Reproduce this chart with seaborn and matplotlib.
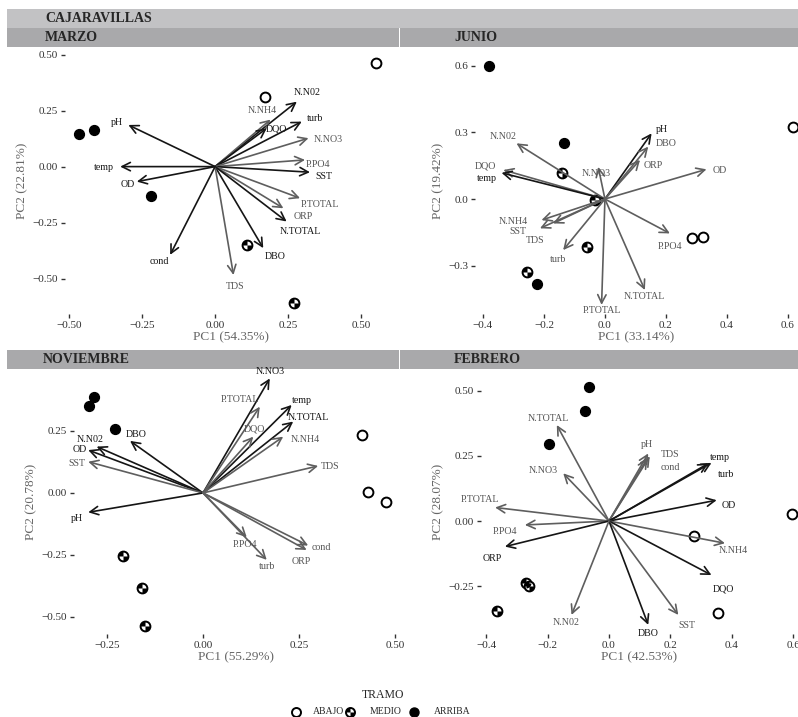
import numpy as np
import pandas as pd
import matplotlib.pyplot as plt
import seaborn as sns
from matplotlib.path import Path
from matplotlib.markers import MarkerStyle
from matplotlib.patches import Rectangle

# ---------------- MARZO
marzo_var = ["pH", "N.N02", "N.NH4", "turb", "DQO", "N.NO3", "P.PO4", "SST",
             "P.TOTAL", "ORP", "N.TOTAL", "DBO", "TDS", "cond", "OD", "temp"]
marzo_pc1 = [-0.297, 0.280, 0.190, 0.297, 0.177, 0.320, 0.308, 0.325,
             0.291, 0.234, 0.245, 0.165, 0.063, -0.154, -0.268, -0.325]
marzo_pc2 = [0.186, 0.290, 0.210, 0.201, 0.171, 0.127, 0.030, -0.025,
             -0.141, -0.186, -0.245, -0.364, -0.484, -0.394, -0.067, 0.000]
marzo_lab_x = [-0.336, 0.315, 0.160, 0.342, 0.211, 0.388, 0.354, 0.371,
               0.360, 0.303, 0.291, 0.205, 0.068, -0.192, -0.299, -0.382]
marzo_lab_y = [0.195, 0.330, 0.250, 0.213, 0.167, 0.119, 0.011, -0.045,
               -0.171, -0.223, -0.290, -0.402, -0.536, -0.424, -0.082, -0.003]
marzo_alta = ["pH", "N.N02", "turb", "DQO", "SST", "N.TOTAL", "DBO", "cond", "OD", "temp"]
marzo_sx = [0.551, 0.171, -0.465, -0.413, -0.220, 0.108, 0.271]
marzo_sy = [0.463, 0.312, 0.145, 0.164, -0.129, -0.350, -0.610]
marzo_tramo = ["ABAJO", "ABAJO", "ARRIBA", "ARRIBA", "ARRIBA", "MEDIO", "MEDIO"]

# ---------------- JUNIO
junio_var = ["pH", "DBO", "ORP", "OD", "N.N02", "DQO", "temp", "N.NO3",
             "N.NH4", "SST", "TDS", "turb", "P.PO4", "N.TOTAL", "P.TOTAL"]
junio_pc1 = [0.153, 0.142, 0.115, 0.333, -0.290, -0.333, -0.339, -0.022,
             -0.208, -0.213, -0.170, -0.137, 0.213, 0.131, -0.011]
junio_pc2 = [0.296, 0.236, 0.176, 0.134, 0.251, 0.131, 0.118, 0.145,
             -0.095, -0.132, -0.110, -0.230, -0.155, -0.410, -0.477]
junio_lab_x = [0.186, 0.202, 0.158, 0.377, -0.333, -0.393, -0.386, -0.027,
               -0.301, -0.284, -0.230, -0.153, 0.213, 0.131, -0.011]
junio_lab_y = [0.314, 0.251, 0.153, 0.127, 0.281, 0.149, 0.093, 0.116,
               -0.102, -0.147, -0.189, -0.272, -0.212, -0.440, -0.503]
junio_alta = ["pH", "temp"]
junio_sx = [-0.379, -0.134, -0.224, -0.140, -0.058, -0.257, -0.033, 0.284, 0.322, 0.617]
junio_sy = [0.600, 0.254, -0.384, 0.116, -0.215, -0.327, -0.005, -0.177, -0.170, 0.326]
junio_tramo = ["ARRIBA", "ARRIBA", "ARRIBA", "MEDIO", "MEDIO", "MEDIO", "MEDIO",
               "ABAJO", "ABAJO", "ABAJO"]

# ---------------- NOVIEMBRE
nov_var = ["N.NO3", "P.TOTAL", "temp", "N.TOTAL", "DQO", "N.NH4", "TDS", "DBO",
           "N.N02", "OD", "SST", "pH", "P.PO4", "turb", "cond", "ORP"]
nov_pc1 = [0.174, 0.148, 0.231, 0.235, 0.131, 0.209, 0.300, -0.190,
           -0.277, -0.299, -0.299, -0.299, 0.114, 0.166, 0.274, 0.270]
nov_pc2 = [0.462, 0.348, 0.355, 0.288, 0.227, 0.227, 0.109, 0.210,
           0.187, 0.173, 0.126, -0.078, -0.179, -0.270, -0.212, -0.230]
nov_lab_x = [0.176, 0.096, 0.257, 0.274, 0.135, 0.266, 0.331, -0.173,
             -0.294, -0.320, -0.329, -0.329, 0.109, 0.166, 0.309, 0.257]
nov_lab_y = [0.489, 0.375, 0.371, 0.304, 0.257, 0.214, 0.106, 0.234,
             0.216, 0.176, 0.117, -0.102, -0.207, -0.297, -0.219, -0.278]
nov_alta = ["N.NO3", "temp", "N.TOTAL", "DBO", "N.N02", "OD", "pH"]
nov_sx = [-0.284, -0.296, -0.229, 0.413, 0.431, 0.476, -0.208, -0.160, -0.151]
nov_sy = [0.386, 0.351, 0.257, 0.234, 0.005, -0.035, -0.254, -0.382, -0.535]
nov_tramo = ["ARRIBA", "ARRIBA", "ARRIBA", "ABAJO", "ABAJO", "ABAJO",
             "MEDIO", "MEDIO", "MEDIO"]

# ---------------- FEBRERO
feb_var = ["N.TOTAL", "N.NO3", "pH", "TDS", "cond", "temp", "turb", "OD",
           "P.TOTAL", "P.PO4", "ORP", "N.NH4", "DQO", "SST", "DBO", "N.N02"]
feb_pc1 = [-0.170, -0.149, 0.128, 0.133, 0.125, 0.334, 0.324, 0.351,
           -0.371, -0.274, -0.339, 0.378, 0.334, 0.226, 0.128, -0.122]
feb_pc2 = [0.368, 0.183, 0.259, 0.248, 0.240, 0.223, 0.221, 0.080,
           0.052, -0.015, -0.098, -0.085, -0.207, -0.360, -0.398, -0.360]
feb_lab_x = [-0.198, -0.214, 0.123, 0.199, 0.199, 0.362, 0.383, 0.389,
             -0.420, -0.339, -0.379, 0.405, 0.372, 0.253, 0.128, -0.138]
feb_lab_y = [0.393, 0.192, 0.294, 0.256, 0.204, 0.243, 0.179, 0.059,
             0.083, -0.041, -0.143, -0.114, -0.262, -0.402, -0.433, -0.388]
feb_alta = ["temp", "turb", "OD", "ORP", "DQO", "DBO"]
feb_sx = [-0.065, -0.078, -0.194, 0.598, 0.277, 0.356, -0.270, -0.260, -0.366]
feb_sy = [0.515, 0.421, 0.295, 0.027, -0.057, -0.354, -0.239, -0.249, -0.345]
feb_tramo = ["ARRIBA", "ARRIBA", "ARRIBA", "ABAJO", "ABAJO", "ABAJO",
             "MEDIO", "MEDIO", "MEDIO"]

meses = ["MARZO", "JUNIO", "NOVIEMBRE", "FEBRERO"]
pc1_var = ["54.35", "33.14", "55.29", "42.53"]
pc2_var = ["22.81", "19.42", "20.78", "28.07"]
tramos = ["ABAJO", "MEDIO", "ARRIBA"]

sns.set_theme(style="white")
plt.rcParams["font.family"] = ["Liberation Serif", "DejaVu Serif"]

W, H = 798, 717
fig = plt.figure(figsize=(W / 100, H / 100), dpi=100)
fig.patch.set_facecolor("white")

DARK = "#151515"
GRAY = "#5e5e5e"
half_marker = MarkerStyle(Path.make_compound_path(Path.wedge(90, 180), Path.wedge(270, 360)))


def px_axes(left, top, right, bottom):
    return fig.add_axes([left / W, 1 - bottom / H, (right - left) / W, (bottom - top) / H])


def draw_points(ax, x, y, tramo, s=50):
    df = pd.DataFrame({"x": x, "y": y, "tramo": tramo})
    for t in tramos:
        d = df[df.tramo == t]
        if d.empty:
            continue
        if t == "ARRIBA":
            sns.scatterplot(data=d, x="x", y="y", ax=ax, color="black", edgecolor="black",
                            linewidth=1.0, s=s, marker="o", zorder=2, clip_on=False)
        else:
            sns.scatterplot(data=d, x="x", y="y", ax=ax, color="white", edgecolor="black",
                            linewidth=1.4, s=s, marker="o", zorder=2, clip_on=False)
            if t == "MEDIO":
                sns.scatterplot(data=d, x="x", y="y", ax=ax, color="black", linewidth=0,
                                s=s, marker=half_marker, zorder=2, clip_on=False)


panels = [
    dict(var=marzo_var, x=marzo_pc1, y=marzo_pc2, lx=marzo_lab_x, ly=marzo_lab_y, alta=marzo_alta,
         sx=marzo_sx, sy=marzo_sy, tr=marzo_tramo,
         box=(65, 47, 397, 314), xlim=(-0.514, 0.623), ylim=(-0.658, 0.534),
         xt=[-0.5, -0.25, 0, 0.25, 0.5], yt=[-0.5, -0.25, 0, 0.25, 0.5], xf="%.2f", yf="%.2f"),
    dict(var=junio_var, x=junio_pc1, y=junio_pc2, lx=junio_lab_x, ly=junio_lab_y, alta=junio_alta,
         sx=junio_sx, sy=junio_sy, tr=junio_tramo,
         box=(475, 47, 798, 314), xlim=(-0.426, 0.633), ylim=(-0.518, 0.685),
         xt=[-0.4, -0.2, 0, 0.2, 0.4, 0.6], yt=[-0.3, 0, 0.3, 0.6], xf="%.1f", yf="%.1f"),
    dict(var=nov_var, x=nov_pc1, y=nov_pc2, lx=nov_lab_x, ly=nov_lab_y, alta=nov_alta,
         sx=nov_sx, sy=nov_sy, tr=nov_tramo,
         box=(74, 370, 398, 634), xlim=(-0.336, 0.508), ylim=(-0.569, 0.496),
         xt=[-0.25, 0, 0.25, 0.5], yt=[-0.5, -0.25, 0, 0.25], xf="%.2f", yf="%.2f"),
    dict(var=feb_var, x=feb_pc1, y=feb_pc2, lx=feb_lab_x, ly=feb_lab_y, alta=feb_alta,
         sx=feb_sx, sy=feb_sy, tr=feb_tramo,
         box=(481, 370, 798, 634), xlim=(-0.417, 0.616), ylim=(-0.433, 0.579),
         xt=[-0.4, -0.2, 0, 0.2, 0.4, 0.6], yt=[-0.25, 0, 0.25, 0.5], xf="%.1f", yf="%.2f"),
]

# background axis in pixel units for strips and legend
bg = fig.add_axes([0, 0, 1, 1])
bg.set_xlim(0, W)
bg.set_ylim(H, 0)
bg.axis("off")
bg.add_patch(Rectangle((7, 9), W - 7, 19, facecolor="#c2c2c4", edgecolor="none"))
bg.text(45, 18.5, "CAJARAVILLAS", fontsize=10, fontweight="bold", va="center", ha="left")
for (sx0, sx1, sy0, sx_text), mes in zip([(7, 399, 28, 45), (400, 798, 28, 454),
                                          (7, 399, 350, 43), (400, 798, 350, 454)], meses):
    bg.add_patch(Rectangle((sx0, sy0), sx1 - sx0, 19, facecolor="#a9a9ab", edgecolor="none"))
    bg.text(sx_text, sy0 + 9.5, mes, fontsize=10, fontweight="bold", va="center", ha="left")

for i, p in enumerate(panels):
    ax = px_axes(*p["box"])
    ax.set_facecolor("none")
    draw_points(ax, p["sx"], p["sy"], p["tr"])
    for name, x, y, lx, ly in zip(p["var"], p["x"], p["y"], p["lx"], p["ly"]):
        c = DARK if name in p["alta"] else GRAY
        ax.annotate("", xy=(x, y), xytext=(0, 0), zorder=3,
                    arrowprops=dict(arrowstyle="->,head_length=0.6,head_width=0.3",
                                    color=c, lw=1.2, shrinkA=0, shrinkB=0, mutation_scale=10))
        ax.text(lx, ly, name, fontsize=7.2, color=c if c == DARK else "#555555",
                ha="center", va="center", zorder=4)
    ax.set_xlim(*p["xlim"])
    ax.set_ylim(*p["ylim"])
    ax.set_xticks(p["xt"])
    ax.set_yticks(p["yt"])
    ax.set_xticklabels([(p["xf"] % v).replace("-", "\u2212") for v in p["xt"]])
    ax.set_yticklabels([(p["yf"] % v).replace("-", "\u2212") for v in p["yt"]])
    ax.tick_params(axis="both", length=3, width=1, color="#333333", labelsize=8,
                   labelcolor="#333333", pad=2, direction="out", bottom=True, left=True)
    for sp in ax.spines.values():
        sp.set_visible(False)
    ax.set_xlabel("PC1 (%s%%)" % pc1_var[i], fontsize=9.5, color="#666666", labelpad=1)
    ax.set_ylabel("PC2 (%s%%)" % pc2_var[i], fontsize=9.5, color="#666666", labelpad=3)
    ax.grid(False)

# legend
bg.text(383, 695, "TRAMO", fontsize=8.5, ha="center", va="center")
leg_x = [296, 350, 414]
leg_y = [712, 712, 712]
draw_points(bg, leg_x, leg_y, tramos, s=42)
for xt, t in zip([313, 370, 434], tramos):
    bg.text(xt, 712, t, fontsize=7, ha="left", va="center")
bg.set_zorder(0)

fig.savefig("out.png", dpi=100)
